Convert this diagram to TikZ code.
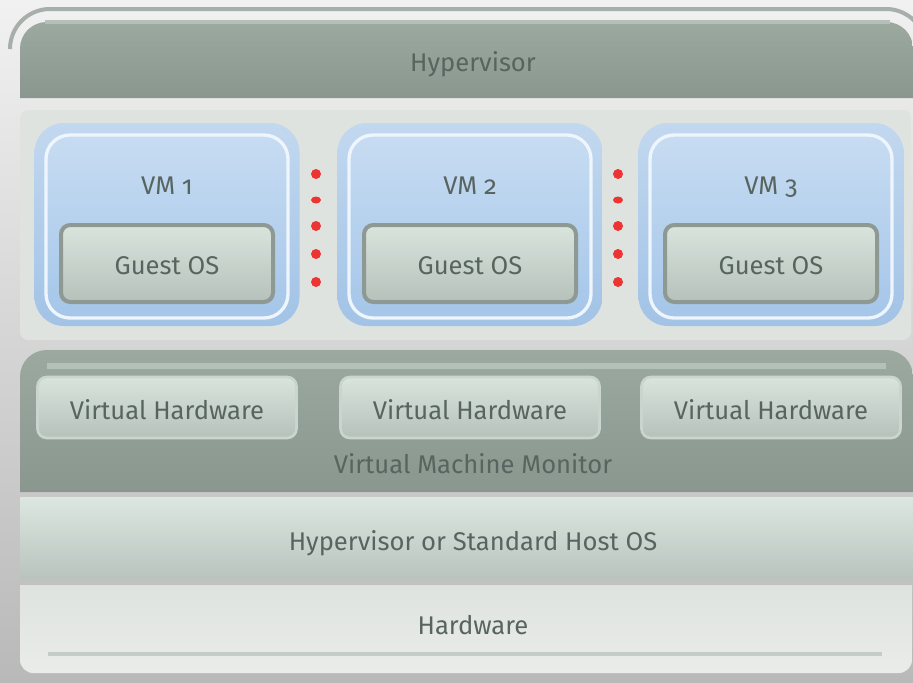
\documentclass[tikz,border=0pt]{standalone}
\usepackage{fontspec}
\setmainfont{Fira Sans}[Numbers=OldStyle]
\usepackage{tikz}

\definecolor{bgtop}{HTML}{F1F1F1}
\definecolor{bgbot}{HTML}{B9B9B9}
\definecolor{frameline}{HTML}{A6AFA9}
\definecolor{bandtop}{HTML}{9BA99F}
\definecolor{bandbot}{HTML}{8A978F}
\definecolor{bandhi}{HTML}{B4C1B8}
\definecolor{vmarea}{HTML}{DFE3DF}
\definecolor{glowtop}{HTML}{C2D8EF}
\definecolor{glowbot}{HTML}{A2C3E6}
\definecolor{vmtop}{HTML}{C7DCF2}
\definecolor{vmbot}{HTML}{A5C6E9}
\definecolor{vmline}{HTML}{EEF5FC}
\definecolor{ostop}{HTML}{D9E4DD}
\definecolor{osbot}{HTML}{B5C1BA}
\definecolor{osline}{HTML}{8F9994}
\definecolor{vhline}{HTML}{CBD5CF}
\definecolor{hosttop}{HTML}{DDE7E1}
\definecolor{hostbot}{HTML}{B8C4BD}
\definecolor{hwtop}{HTML}{DFE3DF}
\definecolor{hwbot}{HTML}{E9ECE9}
\definecolor{hwline}{HTML}{C5CBC6}
\definecolor{dotred}{HTML}{EE3333}
\definecolor{labeltxt}{HTML}{58645F}

\begin{document}
\begin{tikzpicture}[x=0.75pt,y=0.75pt,yscale=-1,xscale=1,
  lbl/.style={text=labeltxt, inner sep=0.75pt, anchor=base, font=\fontsize{19.2}{23}\selectfont},
  darkband/.style={top color=bandtop, bottom color=bandbot, rounded corners=20},
  vmglow/.style={top color=glowtop, bottom color=glowbot, rounded corners=22},
  vmbox/.style={top color=vmtop, bottom color=vmbot, draw=vmline, line width=2.5, rounded corners=18},
  osbox/.style={top color=ostop, bottom color=osbot, draw=osline, line width=3, rounded corners=7},
  vhbox/.style={top color=ostop, bottom color=osbot, draw=vhline, line width=2, rounded corners=7},
  sepdot/.style={fill=dotred}]
\useasboundingbox (0,0) rectangle (913,682);

%Background
\shade [top color=bgtop, bottom color=bgbot] (0,0) rectangle (913,682);
\draw [frameline, line width=3, rounded corners=30] (10,48) -- (10,9) -- (926,9) -- (926,48);

%Hypervisor band
\shade [darkband] (20,98) -- (20,22) -- (913,22) -- (913,98);
\draw [bandhi, line width=3] (45,22) -- (890,22);
\node [lbl] (hyp) at (473,71.5) {Hypervisor};

%VM area
\fill [vmarea, rounded corners=6] (20,110) rectangle (911,340);
\foreach \i/\cx in {1/167, 2/470, 3/771}{
  \shade [vmglow] (\cx-132.5,123) rectangle (\cx+132.5,326);
  \shade [vmbox] (\cx-121,135) rectangle (\cx+121,318);
  \node [lbl] (vm\i) at (\cx,194.5) {VM \i};
  \shade [osbox] (\cx-106,225) rectangle (\cx+106,302);
  \node [lbl] (guest\i) at (\cx,274.5) {Guest OS};
}

%Dots between the VMs
\foreach \dx in {316, 618}{
  \foreach \dy in {174, 226, 254, 282}
    \fill [sepdot] (\dx,\dy) circle (5);
  \fill [sepdot] (\dx,200) ellipse (5 and 3.5);
}

%Virtual Machine Monitor band
\shade [darkband] (20,492) -- (20,350) -- (913,350) -- (913,492);
\draw [bandhi, line width=4] (47,366) -- (886,366);
\foreach \i/\cx in {1/167, 2/470, 3/771}{
  \shade [vhbox] (\cx-129.5,377) rectangle (\cx+129.5,438);
  \node [lbl] (vh\i) at (\cx,419) {Virtual Hardware};
}
\node [lbl] (vmm) at (473,473.5) {Virtual Machine Monitor};

%Host OS band
\shade [top color=hosttop, bottom color=hostbot] (20,497) rectangle (913,578);
\node [lbl] (host) at (473,550) {Hypervisor or Standard Host OS};

%Hardware band
\shade [top color=hwtop, bottom color=hwbot, rounded corners=10] (20,585) -- (20,673) -- (912,673) -- (912,585);
\draw [hwline, line width=3] (48,654) -- (882,654);
\node [lbl] (hw) at (473,634) {Hardware};

\end{tikzpicture}
\end{document}
